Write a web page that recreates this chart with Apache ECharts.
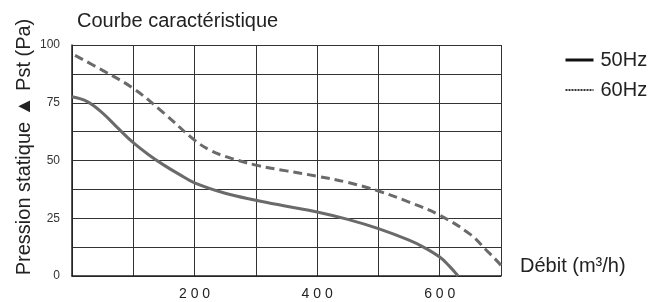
<!DOCTYPE html>
<html lang="fr">
  <head>
    <meta charset="UTF-8" />
    <title>Courbe caractéristique</title>
    <script src="https://cdn.jsdelivr.net/npm/echarts@6/dist/echarts.min.js"></script>
    <style>
      html, body { margin: 0; padding: 0; background: #fff; }
      #box { width: 662px; height: 302px; }
    </style>
  </head>
  <body>
    <div id="box"></div>
    <script>
      // débit (m3/h) et pression statique (Pa)
      var debit50 = [0, 25, 50, 75, 100, 125, 150, 175, 200, 250, 300, 350, 400, 450, 500, 550, 575, 600, 615, 630];
      var pst50 = [77.6, 75.5, 70.5, 64, 57.7, 52.5, 48, 44, 40.3, 35.8, 32.8, 30.2, 27.7, 24.5, 20.5, 15.5, 12.3, 8.2, 4.5, 0];
      var debit60 = [5, 50, 100, 150, 200, 225, 250, 300, 350, 400, 450, 500, 550, 600, 650, 675, 700, 712];
      var pst60 = [95.5, 89, 81.2, 70.5, 58.8, 54.5, 51.8, 48, 45.5, 43.2, 40.5, 36.8, 32, 26.3, 18, 11.5, 4.6, 0];
      var xLabels = [200, 400, 600];
      var yLabels = [0, 25, 50, 75, 100];

      var font = "'Liberation Sans', Arial, sans-serif";

      function pairs(xs, ys) {
        return xs.map(function (x, i) {
          return [x, ys[i]];
        });
      }

      var myChart = echarts.init(document.getElementById("box"));
      var option = {
        animation: false,
        title: {
          text: "Courbe caractéristique",
          left: 77,
          top: 11,
          padding: 0,
          textStyle: { fontSize: 20, fontWeight: "normal", color: "#222", fontFamily: font },
        },
        legend: {
          orient: "vertical",
          left: 564,
          top: 50,
          padding: 0,
          itemWidth: 28,
          itemHeight: 14,
          itemGap: 10,
          textStyle: { fontSize: 20, color: "#222", fontFamily: font, padding: [0, 0, 0, 2] },
          data: [
            { name: "50Hz", lineStyle: { color: "#111", type: "solid", width: 3 }, itemStyle: { color: "#111", opacity: 0 } },
            { name: "60Hz", lineStyle: { color: "#333", type: [2, 1], width: 2 }, itemStyle: { color: "#333", opacity: 0 } },
          ],
        },
        graphic: [
          {
            type: "text",
            x: 24,
            y: 147,
            rotation: Math.PI / 2,
            style: {
              text: "Pression statique ▲ Pst (Pa)",
              fontSize: 20,
              fontFamily: font,
              fill: "#222",
              align: "center",
              verticalAlign: "middle",
            },
          },
        ],
        grid: { left: 72, top: 45, right: 161, bottom: 26, containLabel: false },
        xAxis: {
          type: "value",
          min: 0,
          max: 700,
          interval: 100,
          name: "Débit (m³/h)",
          nameLocation: "end",
          nameGap: 19,
          nameTextStyle: { fontSize: 20, color: "#222", fontFamily: font, align: "left", verticalAlign: "bottom" },
          axisLine: { lineStyle: { color: "#222", width: 1.5 } },
          axisTick: { show: false },
          axisLabel: {
            fontSize: 14,
            color: "#222",
            fontFamily: font,
            margin: 11,
            formatter: function (v) {
              return xLabels.indexOf(v) >= 0 ? String(v).split("").join(" ") : "";
            },
          },
          splitLine: { show: true, lineStyle: { color: "#333", width: 1 } },
        },
        yAxis: {
          type: "value",
          min: 0,
          max: 100,
          interval: 12.5,
          axisLine: { show: true, lineStyle: { color: "#222", width: 1.5 } },
          axisTick: { show: false },
          axisLabel: {
            fontSize: 12,
            color: "#333",
            fontFamily: font,
            margin: 12,
            verticalAlign: "middle",
            padding: [0, 0, 8, 0],
            formatter: function (v) {
              return yLabels.indexOf(v) >= 0 ? String(v) : "";
            },
          },
          splitLine: { show: true, lineStyle: { color: "#333", width: 1 } },
        },
        series: [
          {
            name: "50Hz",
            type: "line",
            smooth: 0.4,
            symbol: "none",
            clip: false,
            data: pairs(debit50, pst50),
            lineStyle: { color: "#6a6a6a", width: 3 },
            itemStyle: { color: "#6a6a6a" },
          },
          {
            name: "60Hz",
            type: "line",
            smooth: 0.4,
            symbol: "none",
            clip: false,
            data: pairs(debit60, pst60),
            lineStyle: { color: "#6a6a6a", width: 3, type: [9, 5] },
            itemStyle: { color: "#6a6a6a" },
          },
        ],
      };
      myChart.setOption(option);
    </script>
  </body>
</html>
